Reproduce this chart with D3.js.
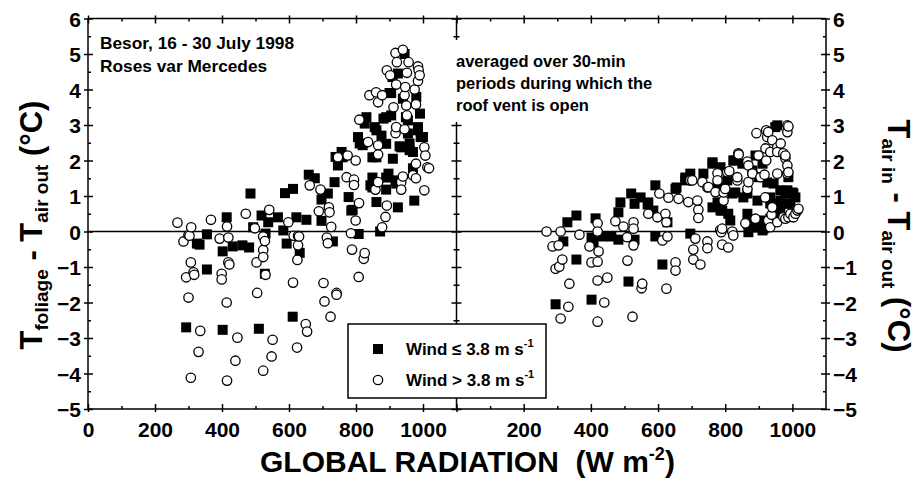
<!DOCTYPE html>
<html><head><meta charset="utf-8">
<script src="https://cdn.jsdelivr.net/npm/d3@7"></script>
<style>body{margin:0;background:#fff}svg{display:block}text{font-family:"Liberation Sans",Arial,Helvetica,sans-serif;font-weight:bold;fill:#000}</style>
</head><body><div id="chart"></div>
<script>
// ---- data: [global radiation W m-2, temperature difference °C] ----
const leftCalm = [[293,-2.7],[325,-0.34],[333,-0.37],[355,-1.07],[355,-0.08],[402,-0.56],[402,-2.77],[414,0.4],[432,-0.42],[461,-0.39],[481,-0.45],[485,1.07],[493,0.12],[510,-2.74],[518,0.45],[528,-1.19],[530,-0.06],[538,0.26],[567,0.4],[583,0.03],[588,1.08],[593,-0.34],[611,-2.4],[612,1.2],[622,0.4],[632,-0.6],[652,0.33],[659,1.6],[677,1.5],[697,0.9],[697,0.3],[716,1.07],[731,-0.28],[736,1.39],[739,2.1],[746,1.86],[757,2.24],[760,2.09],[778,0.97],[786,0.59],[790,0.61],[806,2.66],[808,-0.07],[811,2.48],[820,2.43],[826,3.04],[831,3.22],[843,1.3],[849,1.52],[849,2.09],[849,1.24],[856,2.94],[861,2.09],[861,0.83],[861,2.85],[872,0],[876,2.7],[882,3.18],[890,2.47],[890,1.18],[890,3.22],[890,1.52],[897,1.63],[900,3.9],[905,3.27],[905,3.9],[909,4.35],[910,2.05],[918,1.44],[920,1.35],[925,0.68],[925,4.45],[930,2.4],[935,2.37],[940,3.74],[945,5.0],[949,3.22],[955,2.76],[955,3.13],[960,2.29],[960,2.48],[970,1.78],[970,2.24],[974,0.87],[980,3.79],[985,2.94],[985,2.85],[991,3.32],[993,2.66],[1000,2.66]];
const leftWindy = [[267,0.25],[285,-0.28],[293,-1.29],[300,-0.1],[300,-1.86],[303,-0.12],[307,-0.87],[307,-4.12],[308,0.12],[315,-1.15],[317,-1.22],[330,-3.39],[335,-2.8],[367,0.33],[393,-0.2],[399,-1.19],[399,-1.35],[414,-2.0],[415,0.14],[415,-4.2],[419,-0.17],[419,-0.87],[422,-0.93],[440,-3.64],[446,-2.99],[471,0.5],[498,0.09],[503,-0.87],[505,-1.73],[523,-0.14],[523,-0.52],[523,-0.72],[523,-3.92],[528,-0.27],[530,-1.22],[541,0.61],[548,-3.52],[551,-3.05],[598,0.26],[612,-1.44],[614,-0.12],[624,-3.27],[625,-0.8],[627,-0.12],[627,-0.39],[630,-0.14],[650,-2.61],[654,-2.82],[662,1.3],[689,0.57],[694,1.18],[703,-1.45],[706,-1.97],[713,-0.17],[716,-0.33],[719,0.68],[721,0.54],[724,-2.4],[726,0.13],[742,-1.73],[742,-1.78],[746,2.09],[772,1.53],[775,2.14],[785,-0.05],[788,-0.51],[794,1.46],[794,1.31],[799,2.0],[799,0.31],[808,-1.28],[809,0.8],[810,3.15],[823,-0.77],[826,-0.61],[836,2.52],[840,3.84],[858,1.18],[860,3.92],[866,3.64],[866,2.43],[866,2.17],[866,1.39],[878,3.84],[878,0.12],[888,0.41],[892,0.73],[892,4.54],[902,4.4],[912,3.5],[918,5.03],[918,2.77],[920,4.14],[920,2.94],[922,4.77],[935,1.39],[935,1.18],[940,5.12],[940,1.55],[945,3.84],[945,2.88],[947,4.07],[950,3.55],[952,4.47],[952,3.27],[957,4.77],[970,1.58],[975,4.0],[979,3.58],[979,1.91],[979,1.5],[985,4.65],[985,4.24],[987,4.54],[990,4.4],[1004,2.37],[1004,1.16],[1007,2.14],[1013,1.81],[1018,1.78]];
const rightCalm = [[295,-2.05],[318,-0.28],[330,0.26],[357,0.45],[357,-0.79],[402,-0.17],[402,-1.92],[408,-0.3],[414,0.37],[434,-0.14],[461,-0.14],[482,0.54],[482,-0.23],[488,0.82],[512,-1.41],[520,1.07],[530,0.78],[530,-0.23],[548,0.96],[569,0.76],[571,0.82],[586,0.59],[592,1.3],[592,-0.14],[613,-0.93],[628,0.26],[652,1.2],[655,1.24],[681,1.44],[681,1.52],[696,1.63],[696,-0.06],[735,1.63],[762,1.91],[762,1.95],[762,0.68],[777,1.24],[777,0.82],[786,1.81],[786,0.59],[791,0.59],[806,1.44],[809,0.5],[815,0.31],[821,1.07],[824,2.0],[827,2.0],[830,1.1],[851,1.91],[854,0.96],[866,0.5],[866,1.07],[866,0.23],[869,-0.02],[881,1.72],[884,0.11],[890,2.14],[896,0.87],[899,1.53],[905,0.23],[905,0.31],[911,1.91],[911,0.03],[914,0.08],[925,1.38],[934,0.96],[934,0.79],[934,0.36],[944,1.35],[949,2.94],[949,0.36],[955,2.99],[958,0.78],[964,1.16],[964,0.87],[964,0.59],[979,1.07],[985,1.16],[988,1.53],[988,0.78],[994,0.79],[1000,1.1],[1003,1.07],[1009,0.96]];
const rightWindy = [[268,0],[286,-0.42],[295,-1.05],[304,-0.39],[306,-0.99],[310,0],[310,-2.45],[315,-0.79],[333,-2.12],[336,-1.47],[366,-0.09],[396,-0.42],[402,-0.87],[420,0.23],[420,0],[420,-0.85],[420,-1.38],[420,-2.54],[423,-0.56],[440,-2.0],[449,-1.3],[473,0.29],[497,0.14],[508,-0.16],[509,-0.82],[524,-2.4],[527,0.26],[527,0.08],[527,-0.39],[551,-1.6],[553,-1.47],[571,0.5],[598,0.4],[604,1.07],[613,-0.25],[622,0.5],[625,0.26],[625,-1.61],[628,-0.14],[631,0.95],[652,-0.87],[652,-1.1],[661,0.92],[690,0.83],[696,1.44],[702,1.44],[705,-0.51],[705,-0.79],[711,-0.2],[717,0.87],[720,0.61],[720,0.38],[726,-0.93],[732,1.39],[747,-0.28],[747,-0.47],[747,1.24],[750,1.25],[771,1.11],[777,1.64],[777,1.44],[785,0.04],[788,-0.02],[791,-0.37],[791,0.08],[795,0.87],[795,1.1],[800,1.2],[806,1.67],[809,-0.45],[812,1.7],[821,0],[824,-0.11],[836,1.44],[836,1.53],[839,2.2],[840,2.17],[860,0.23],[866,1.97],[866,1.2],[869,1.86],[869,1.39],[881,1.64],[881,1.63],[890,0.36],[893,2.77],[899,2.14],[905,1.53],[917,1.6],[919,0.96],[920,2.34],[922,2.85],[922,2.0],[925,2.66],[928,2.8],[928,0.31],[934,2.24],[934,0.12],[938,0.47],[940,2.57],[940,0.68],[955,2.37],[955,2.24],[955,1.63],[955,0.26],[965,2.48],[973,2.2],[973,0.4],[979,2.06],[979,2.14],[979,0.36],[985,1.86],[985,1.63],[985,2.8],[985,2.99],[988,1.67],[988,2.96],[988,0.4],[994,0.5],[1003,0.4],[1009,0.5],[1015,0.59],[1018,0.64]];
const xMajor = [0,200,400,600,800,1000];
const xMinor = [100,300,500,700,900];
const yMajor = [-5,-4,-3,-2,-1,0,1,2,3,4,5,6];
const yMinor = [-4.5,-3.5,-2.5,-1.5,-0.5,0.5,1.5,2.5,3.5,4.5,5.5];
const legendLabels = ["Wind \u2264 3.8 m s", "Wind > 3.8 m s"];

const W = 919, H = 481;
const svg = d3.select("#chart").append("svg").attr("width", W).attr("height", H);
const xL = d3.scaleLinear().domain([0,1100]).range([88,456.5]);
const xR = d3.scaleLinear().domain([0,1100]).range([456.5,826]);
const y = d3.scaleLinear().domain([-5,6]).range([409,18.5]);
const Y0 = y(6), Y1 = y(-5);
const SW = 1.5;

// frame lines
const g = svg.append("g").attr("stroke","#000").attr("stroke-width",SW).attr("fill","none");
g.append("line").attr("x1",xL(0)).attr("x2",xR(1100)).attr("y1",Y0).attr("y2",Y0);
g.append("line").attr("x1",xL(0)).attr("x2",xR(1100)).attr("y1",Y1).attr("y2",Y1);
g.append("line").attr("x1",xL(0)).attr("x2",xL(0)).attr("y1",Y0).attr("y2",Y1);
g.append("line").attr("x1",xR(1100)).attr("x2",xR(1100)).attr("y1",Y0).attr("y2",Y1);
const xm = xL(1100);
g.append("line").attr("x1",xm).attr("x2",xm).attr("y1",Y0).attr("y2",40);
g.append("line").attr("x1",xm).attr("x2",xm).attr("y1",122).attr("y2",Y1);
// zero line
g.append("line").attr("x1",xL(0)).attr("x2",xR(1100)).attr("y1",y(0)).attr("y2",y(0));

// ticks via d3 axes
function xTicks(scale, yPos, labels, dir){
  const ax = d3.axisBottom(scale).tickValues(xMajor).tickSizeOuter(0).tickSize(0)
    .tickFormat(labels ? (d=>labels.includes(d)?d:"") : "");
  const a = svg.append("g").attr("transform",`translate(0,${yPos})`).call(ax);
  a.select(".domain").remove();
  a.selectAll(".tick line").attr("stroke","#000").attr("stroke-width",SW).attr("y1",-5*dir).attr("y2",3*dir);
  a.selectAll(".tick text").attr("dy",null).attr("y",28).attr("font-size",21).attr("font-family",null);
  const mi = svg.append("g").attr("transform",`translate(0,${yPos})`).call(d3.axisBottom(scale).tickValues(xMinor).tickSize(0).tickFormat(""));
  mi.select(".domain").remove();
  mi.selectAll(".tick line").attr("stroke","#000").attr("stroke-width",SW).attr("y1",-3*dir).attr("y2",0);
}
xTicks(xL, Y1, xMajor, 1);
xTicks(xR, Y1, xMajor.filter(d=>d>0), 1);
xTicks(xL, Y0, null, -1);
xTicks(xR, Y0, null, -1);

function yTicks(xPos, side, withLabels){
  const inGap = v => { const p = y(v); return p > 40 && p < 122 && side==="mid"; };
  const ax = d3.axisLeft(y).tickValues(yMajor.filter(v=>!inGap(v))).tickSize(0).tickFormat(withLabels ? d3.format("d") : "");
  const a = svg.append("g").attr("transform",`translate(${xPos},0)`).call(ax);
  a.select(".domain").remove();
  a.selectAll(".tick line").attr("stroke","#000").attr("stroke-width",SW)
    .attr("x1", side==="left" ? -4 : -5).attr("x2", side==="right" ? 4 : 5);
  a.selectAll(".tick text").attr("font-size",21).attr("font-family",null).attr("dy","0.36em")
    .attr("x", side==="left" ? -7 : 7).attr("text-anchor", side==="left" ? "end" : "start");
  const mi = svg.append("g").attr("transform",`translate(${xPos},0)`).call(d3.axisLeft(y).tickValues(yMinor.filter(v=>!inGap(v))).tickSize(0).tickFormat(""));
  mi.select(".domain").remove();
  mi.selectAll(".tick line").attr("stroke","#000").attr("stroke-width",SW)
    .attr("x1", side==="left" ? 0 : -3).attr("x2", side==="right" ? 0 : 3);
}
yTicks(xL(0), "left", true);
yTicks(xR(1100), "right", true);
yTicks(xm, "mid", false);

// points
function drawPanel(xs, calm, windy){
  const s = 10;
  svg.append("g").selectAll("rect").data(calm).join("rect")
    .attr("x", d=>xs(d[0])-s/2).attr("y", d=>y(d[1])-s/2).attr("width",s).attr("height",s).attr("fill","#000");
  svg.append("g").selectAll("circle").data(windy).join("circle")
    .attr("cx", d=>xs(d[0])).attr("cy", d=>y(d[1])).attr("r",4.7)
    .attr("fill","#fff").attr("stroke","#000").attr("stroke-width",1.3);
}
drawPanel(xL, leftCalm, leftWindy);
drawPanel(xR, rightCalm, rightWindy);

// annotations
svg.append("text").attr("x",100).attr("y",49).attr("font-size",17.3).text("Besor, 16 - 30 July 1998");
svg.append("text").attr("x",100).attr("y",72).attr("font-size",17.3).text("Roses var Mercedes");
["averaged over 30-min","periods during which the","roof vent is open"].forEach((t,i)=>{
  svg.append("text").attr("x",456).attr("y",67+i*22).attr("font-size",16.5).text(t);
});

// legend
const lg = svg.append("g");
lg.append("rect").attr("x",348).attr("y",324).attr("width",198).attr("height",74)
  .attr("fill","#fff").attr("stroke","#000").attr("stroke-width",SW);
lg.append("rect").attr("x",373).attr("y",344).attr("width",10).attr("height",10).attr("fill","#000");
lg.append("circle").attr("cx",378).attr("cy",380).attr("r",4.7).attr("fill","#fff").attr("stroke","#000").attr("stroke-width",1.3);
legendLabels.forEach((t,i)=>{
  const tx = lg.append("text").attr("x",406).attr("y",355+i*31).attr("font-size",17).text(t);
  tx.append("tspan").attr("font-size",11).attr("dy",-8).text("-1");
});

// axis titles
const xt = svg.append("text").attr("x",260).attr("y",472).attr("font-size",30).style("white-space","pre");
xt.append("tspan").text("GLOBAL RADIATION  (W m");
xt.append("tspan").attr("font-size",18).attr("dy",-12).text("-2");
xt.append("tspan").attr("dy",12).text(")");

function yTitle(x, yc, rot, sub){
  const t = svg.append("text").attr("transform",`translate(${x},${yc}) rotate(${rot})`)
    .attr("text-anchor","middle").attr("font-size",31).style("white-space","pre");
  t.append("tspan").text("T");
  t.append("tspan").attr("font-size",19).attr("dy",6).text(sub);
  t.append("tspan").attr("dy",-6).text(" - T");
  t.append("tspan").attr("font-size",19).attr("dy",6).text("air out");
  t.append("tspan").attr("dy",-6).text(" (°C)");
}
yTitle(42, 225, -90, "foliage");
yTitle(888, 236, 90, "air in");
</script></body></html>
